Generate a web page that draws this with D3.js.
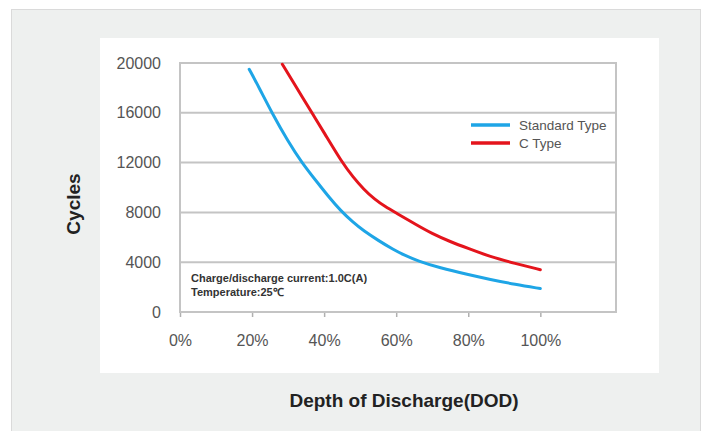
<!DOCTYPE html>
<html><head><meta charset="utf-8">
<script src="https://cdn.jsdelivr.net/npm/d3@7"></script>
<style>body{margin:0;background:#fff}svg{display:block}</style>
</head><body>
<script>
const xTicks = [0, 20, 40, 60, 80, 100];
const yTicks = [0, 4000, 8000, 12000, 16000, 20000];
const standardDod = [19.2, 22, 25.5, 30, 33.8, 38, 41.7, 44.4, 48, 51, 55, 59.3, 62, 66, 72, 80, 86, 93, 100];
const standardCycles = [19500, 18000, 16000, 13700, 12000, 10450, 9100, 8200, 7200, 6520, 5750, 5000, 4600, 4100, 3560, 3000, 2620, 2220, 1880];
const cTypeDod = [28.4, 32, 36.6, 40, 45, 48, 51, 54, 57, 60, 65, 70, 75, 80, 86, 93, 100];
const cTypeCycles = [19900, 18200, 16000, 14400, 12000, 10850, 9850, 9050, 8450, 7950, 7100, 6280, 5650, 5100, 4450, 3900, 3400];
const seriesNames = ["Standard Type", "C Type"];
const seriesColors = ["#1ea5e6", "#e4141c"];
const note = ["Charge/discharge current:1.0C(A)", "Temperature:25\u2103"];

const W = 707, H = 431;
const svg = d3.select("body").append("svg").attr("width", W).attr("height", H);
const font = "Liberation Sans, Arial, Helvetica, sans-serif";

svg.append("rect").attr("x", 11.5).attr("y", 9.5).attr("width", 689).attr("height", 430)
  .attr("fill", "#eef0ef").attr("stroke", "#dadada");
svg.append("rect").attr("x", 100).attr("y", 38).attr("width", 559).attr("height", 335).attr("fill", "#fff");

const x = d3.scaleLinear().domain([0, 121]).range([180, 616]);
const y = d3.scaleLinear().domain([0, 20000]).range([312, 63]);

// grid
svg.append("g").selectAll("line").data(yTicks).join("line")
  .attr("x1", x(0)).attr("x2", x(121)).attr("y1", d => y(d)).attr("y2", d => y(d))
  .attr("stroke", "#c4c4c4").attr("stroke-width", 2);
svg.append("rect").attr("x", x(0)).attr("y", y(20000)).attr("width", x(121) - x(0)).attr("height", y(0) - y(20000))
  .attr("fill", "none").attr("stroke", "#c4c4c4").attr("stroke-width", 2);

// x axis
const xAxis = d3.axisBottom(x).tickValues(xTicks).tickFormat(d => d + "%").tickSize(4).tickPadding(18);
const gx = svg.append("g").attr("transform", `translate(0,${y(0) + 1})`).call(xAxis);
gx.select(".domain").remove();
gx.selectAll(".tick line").attr("stroke", "#b0b0b0").attr("stroke-width", 1.5);
gx.selectAll(".tick text").attr("font-family", font).attr("font-size", 16).attr("fill", "#555");

// y axis
const yAxis = d3.axisLeft(y).tickValues(yTicks).tickFormat(d3.format("d")).tickSize(0).tickPadding(19);
const gy = svg.append("g").attr("transform", `translate(${x(0)},0)`).call(yAxis);
gy.select(".domain").remove();
gy.selectAll(".tick text").attr("font-family", font).attr("font-size", 16).attr("fill", "#555");

// lines
const line = d3.line().x(d => x(d[0])).y(d => y(d[1])).curve(d3.curveBasis);
const series = [d3.zip(standardDod, standardCycles), d3.zip(cTypeDod, cTypeCycles)];
svg.append("g").selectAll("path").data(series).join("path")
  .attr("d", line).attr("fill", "none").attr("stroke", (d, i) => seriesColors[i])
  .attr("stroke-width", 3).attr("stroke-linecap", "round");

// legend
const lg = svg.append("g");
seriesNames.forEach((n, i) => {
  const yy = 125 + i * 18;
  lg.append("line").attr("x1", 471).attr("x2", 510).attr("y1", yy).attr("y2", yy)
    .attr("stroke", seriesColors[i]).attr("stroke-width", 3.5);
  lg.append("text").attr("x", 519).attr("y", yy + 5).text(n)
    .attr("font-family", font).attr("font-size", 13.5).attr("fill", "#555");
});

// note
svg.append("g").selectAll("text").data(note).join("text")
  .attr("x", 191).attr("y", (d, i) => 282 + i * 13.5).text(d => d)
  .attr("font-family", font).attr("font-size", 11).attr("font-weight", "bold").attr("fill", "#333");

// axis titles
svg.append("text").attr("transform", "translate(80,204) rotate(-90)").attr("text-anchor", "middle")
  .text("Cycles").attr("font-family", font).attr("font-size", 19).attr("font-weight", "bold").attr("fill", "#222");
svg.append("text").attr("x", 404).attr("y", 407).attr("text-anchor", "middle")
  .text("Depth of Discharge(DOD)").attr("font-family", font).attr("font-size", 19).attr("font-weight", "bold").attr("fill", "#222");
</script>
</body></html>
